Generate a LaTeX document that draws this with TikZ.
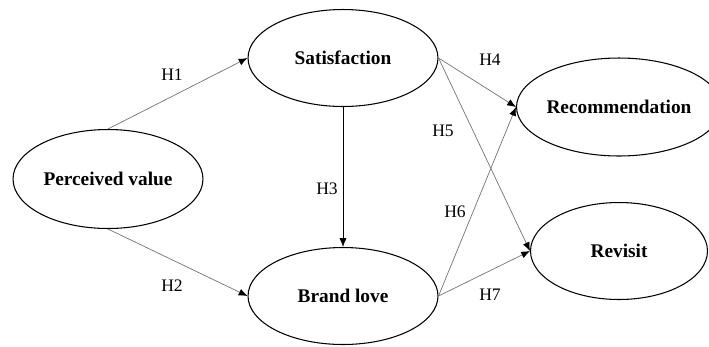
\documentclass[tikz,border=0pt]{standalone}
\usepackage{fontspec}
\setmainfont{Liberation Serif}
\usetikzlibrary{shapes.geometric,arrows.meta}

\begin{document}
\begin{tikzpicture}[x=0.02cm, y=-0.02cm,
  construct/.style = {draw, ellipse, line width=0.6pt, inner sep=0pt, font=\fontsize{11}{13}\selectfont\bfseries},
  path/.style = {draw=black!55, line width=0.4pt, -{Latex[length=5pt,width=4pt,color=black]}},
  hyp/.style = {font=\fontsize{10}{12}\selectfont}]

\useasboundingbox (0,0) rectangle (709,346);

\node[construct, minimum width=3.8cm, minimum height=1.98cm] (pv) at (108,179) {Perceived value};
\node[construct, minimum width=3.8cm, minimum height=1.94cm] (sat) at (343,58) {Satisfaction};
\node[construct, minimum width=3.8cm, minimum height=1.94cm] (bl) at (343,296) {Brand love};
\node[construct, minimum width=3.54cm, minimum height=1.96cm] (rec) at (619,107) {Recommendation};
\node[construct, minimum width=3.54cm, minimum height=1.94cm] (rev) at (619,251) {Revisit};

\draw[path] (pv.north) -- (sat.west);
\draw[path] (pv.south) -- (bl.west);
\draw[path, draw=black] (sat.south) -- (bl.north);
\draw[path] (sat.east) -- (rec.west);
\draw[path] (sat.east) -- (rev.west);
\draw[path] (bl.east) -- (rec.west);
\draw[path] (bl.east) -- (rev.west);

\node[hyp] (h1) at (172,75) {H1};
\node[hyp] (h2) at (172,286) {H2};
\node[hyp] (h3) at (327,189) {H3};
\node[hyp] (h4) at (490,60) {H4};
\node[hyp] (h5) at (443,131) {H5};
\node[hyp] (h6) at (455,212) {H6};
\node[hyp] (h7) at (490,295) {H7};

\end{tikzpicture}
\end{document}
